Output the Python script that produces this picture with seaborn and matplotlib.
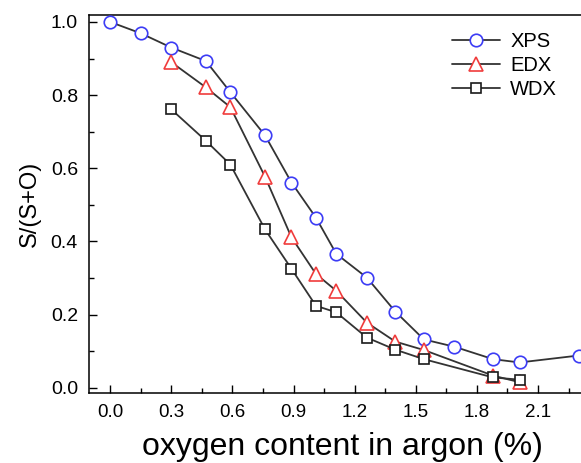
import matplotlib
matplotlib.use("Agg")
import matplotlib.pyplot as plt
from matplotlib.lines import Line2D
from matplotlib.ticker import MultipleLocator
import seaborn as sns
import pandas as pd

# oxygen content (%) and S/(S+O)
xps_x = [0.0, 0.15, 0.30, 0.47, 0.59, 0.76, 0.89, 1.01, 1.11, 1.26, 1.40, 1.54, 1.69, 1.88, 2.01, 2.30]
xps_y = [1.0, 0.969, 0.930, 0.893, 0.808, 0.690, 0.561, 0.465, 0.366, 0.301, 0.208, 0.132, 0.112, 0.078, 0.069, 0.088]
edx_x = [0.30, 0.47, 0.59, 0.76, 0.89, 1.01, 1.11, 1.26, 1.40, 1.54, 1.88, 2.01]
edx_y = [0.890, 0.821, 0.767, 0.577, 0.411, 0.311, 0.265, 0.178, 0.126, 0.103, 0.033, 0.015]
wdx_x = [0.30, 0.47, 0.59, 0.76, 0.89, 1.01, 1.11, 1.26, 1.40, 1.54, 1.88, 2.01]
wdx_y = [0.761, 0.675, 0.610, 0.433, 0.325, 0.224, 0.206, 0.137, 0.104, 0.078, 0.028, 0.022]

series = [
    ("XPS", xps_x, xps_y, "o", "#3c3cf5", 9),
    ("EDX", edx_x, edx_y, "^", "#f03c3c", 9.5),
    ("WDX", wdx_x, wdx_y, "s", "#1a1a1a", 7.5),
]


def main():
    sns.set_style("ticks")
    plt.rcParams["font.family"] = ["Liberation Sans", "DejaVu Sans"]
    plt.rcParams["text.color"] = "black"
    plt.rcParams["axes.labelcolor"] = "black"
    fig = plt.figure(figsize=(5.81, 4.63), dpi=100)
    # axes runs past the right edge, as in the cropped original
    ax = fig.add_axes([89 / 581, (463 - 393.3) / 463, 507 / 581, 378.3 / 463])

    handles = []
    for name, xs, ys, mk, col, ms in series:
        df = pd.DataFrame({"x": xs, "y": ys})
        # white faces so the joining line stops at the marker edge
        sns.lineplot(data=df, x="x", y="y", ax=ax, sort=False, color="#333333",
                     linewidth=1.3, marker=mk, markersize=ms, markerfacecolor="white",
                     markeredgecolor=col, markeredgewidth=1.2, zorder=3)
        handles.append(Line2D([], [], color="#333333", lw=1.3, marker=mk, markersize=ms,
                              markerfacecolor="white", markeredgecolor=col,
                              markeredgewidth=1.2, label=name))

    ax.set_xlim(-0.104, 2.385)
    ax.set_ylim(-0.0153, 1.019)
    ax.xaxis.set_major_locator(MultipleLocator(0.3))
    ax.xaxis.set_minor_locator(MultipleLocator(0.15))
    ax.yaxis.set_major_locator(MultipleLocator(0.2))
    ax.yaxis.set_minor_locator(MultipleLocator(0.1))
    ax.tick_params(which="major", direction="in", length=6, width=1, colors="black", pad=8)
    ax.tick_params(which="minor", direction="in", length=3.5, width=1, colors="black")
    ax.tick_params(axis="x", labelsize=13.5)
    ax.tick_params(axis="y", labelsize=14)
    ax.tick_params(top=False, right=False)
    for s in ax.spines.values():
        s.set_linewidth(1.1)
        s.set_color("black")

    ax.set_xlabel("oxygen content in argon (%)", fontsize=23, labelpad=7.5)
    ax.set_ylabel("S/(S+O)", fontsize=17, labelpad=7)

    ax.legend(handles=handles, loc="upper left", bbox_to_anchor=(452 / 581, 1 - 32 / 463),
              bbox_transform=fig.transFigure, frameon=False, fontsize=14.5,
              handlelength=2.4, handletextpad=0.5, labelspacing=0.25, borderpad=0,
              borderaxespad=0)

    fig.savefig("out.png", dpi=100)


if __name__ == "__main__":
    main()
